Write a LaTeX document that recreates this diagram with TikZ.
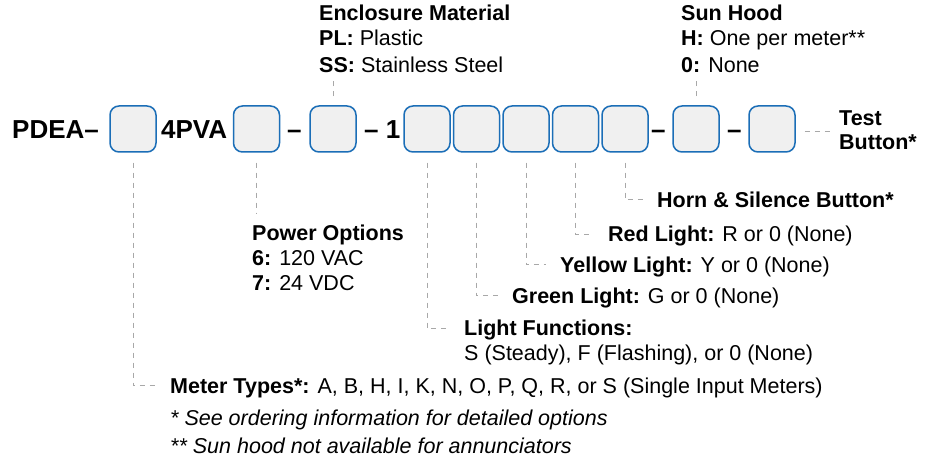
\documentclass[tikz,border=0pt]{standalone}
\usepackage{fontspec}
\setmainfont{Liberation Sans}
\usetikzlibrary{positioning}

\definecolor{slotblue}{HTML}{1B6EB7}
\definecolor{slotfill}{HTML}{F0F0F0}
\definecolor{leadgray}{HTML}{A8A8A8}

\tikzset{
  slot/.style={draw=slotblue, fill=slotfill, line width=1.5pt, rounded corners=9pt,
    minimum width=46pt, minimum height=46pt, inner sep=0pt},
  code/.style={font=\fontsize{26}{30}\selectfont\bfseries, inner sep=0pt, anchor=base west},
  txt/.style={font=\fontsize{21.5}{25}\selectfont, inner sep=0pt, anchor=base west},
  foot/.style={font=\fontsize{21.5}{25}\selectfont\itshape, inner sep=0pt, anchor=base west},
  lead/.style={draw=leadgray, line width=0.9pt, dash pattern=on 5pt off 5pt},
}

\begin{document}
\begin{tikzpicture}[x=1pt, y=-1pt]
    \useasboundingbox[fill=white] (0,0) rectangle (932,462);

    % part number with its blank slots
    \node[code]                     (pdea)  at (12,138.3)  {PDEA–};
    \node[slot]                     (m1)    at (133,129)   {};
    \node[code]                     (pva)   at (161,138.3) {4PVA};
    \node[slot]                     (m2)    at (256.5,129) {};
    \node[code]                     (dash1) at (287,138.3) {–};
    \node[slot]                     (m3)    at (333,129)   {};
    \node[code]                     (one)   at (364,138.3) {– 1};
    \node[slot]                     (m4)    at (427,129)   {};
    \node[slot, right=2pt of m4]    (m5)    {};
    \node[slot, right=2pt of m5]    (m6)    {};
    \node[slot, right=2pt of m6]    (m7)    {};
    \node[slot, right=2pt of m7]    (m8)    {};
    \node[code]                     (dash2) at (651,138.3) {–};
    \node[slot]                     (m9)    at (696,129)   {};
    \node[code]                     (dash3) at (727,138.3) {–};
    \node[slot]                     (m10)   at (772,129)   {};

    % options above
    \node[txt] (encl)  at (319,20.7) {\textbf{Enclosure Material}};
    \node[txt] (pl)    at (319,45.7) {\textbf{PL:} Plastic};
    \node[txt] (ss)    at (319,72.3) {\textbf{SS:} Stainless Steel};
    \node[txt] (hood)  at (681,20.7) {\textbf{Sun Hood}};
    \node[txt] (hh)    at (681,45.7) {\textbf{H:} One per meter**};
    \node[txt] (hz)    at (681,72.3) {\textbf{0:} None};
    \node[txt] (test)  at (839,126)  {\textbf{Test}};
    \node[txt] (btn)   at (839,150)  {\textbf{Button*}};

    % options below
    \node[txt] (power)  at (252,241)   {\textbf{Power Options}};
    \node[txt] (p6)     at (252,265.7) {\textbf{6:} 120 VAC};
    \node[txt] (p7)     at (252,291)   {\textbf{7:} 24 VDC};
    \node[txt] (horn)   at (657,207.3) {\textbf{Horn \& Silence Button*}};
    \node[txt] (red)    at (608,241.7) {\textbf{Red Light:} R or 0 (None)};
    \node[txt] (yellow) at (560,272.3) {\textbf{Yellow Light:} Y or 0 (None)};
    \node[txt] (green)  at (512,303.3) {\textbf{Green Light:} G or 0 (None)};
    \node[txt] (func)   at (464,336)   {\textbf{Light Functions:}};
    \node[txt] (funcs)  at (464,361)   {S (Steady), F (Flashing), or 0 (None)};
    \node[txt] (meter)  at (170,393.3) {\textbf{Meter Types*:} A, B, H, I, K, N, O, P, Q, R, or S (Single Input Meters)};
    \node[foot] (fa)    at (170,425)   {* See ordering information for detailed options};
    \node[foot] (fb)    at (170,453)   {** Sun hood not available for annunciators};

    % leaders
    \draw[lead] (m3.north) ++(0,-9) -- ++(0,-15);
    \draw[lead] (m9.north) ++(0,-9) -- ++(0,-15);
    \draw[lead] ([xshift=9pt,yshift=-2pt]m10.east) -- ([xshift=-8pt,yshift=-2pt]m10.east -| test.west);
    \draw[lead] ([yshift=-10pt]m2.south) -- ++(0,51);
    \draw[lead] ([yshift=-10pt]m1.south) |- ([xshift=-14pt,yshift=7.5pt]meter.base west);
    \draw[lead] ([yshift=-10pt]m4.south) |- ([xshift=-14pt,yshift=7.5pt]func.base west);
    \draw[lead] ([yshift=-10pt]m5.south) |- ([xshift=-14pt,yshift=7.5pt]green.base west);
    \draw[lead] ([yshift=-10pt]m6.south) |- ([xshift=-14pt,yshift=7.5pt]yellow.base west);
    \draw[lead] ([yshift=-10pt]m7.south) |- ([xshift=-14pt,yshift=7.5pt]red.base west);
    \draw[lead] ([yshift=-10pt]m8.south) |- ([xshift=-14pt,yshift=7.5pt]horn.base west);
\end{tikzpicture}
\end{document}
